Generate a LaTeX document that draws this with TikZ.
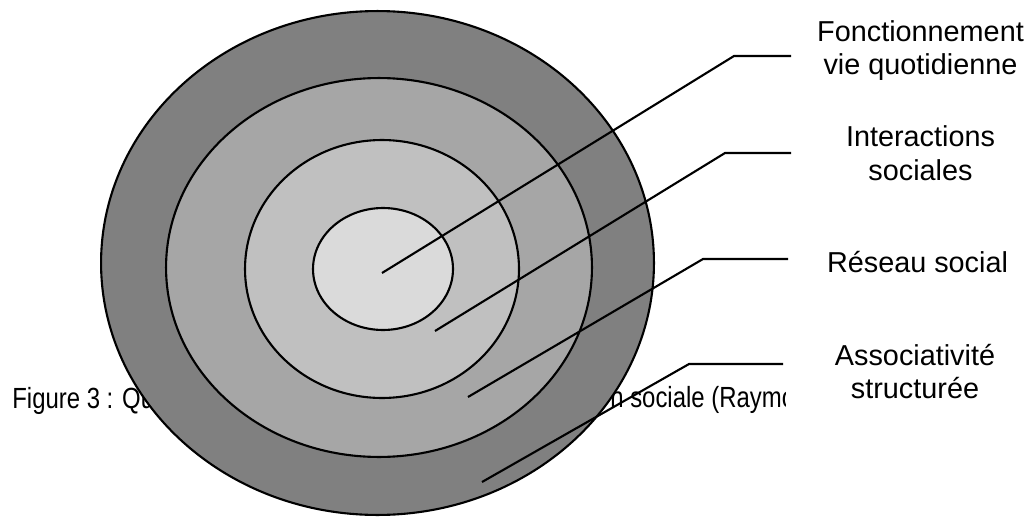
\documentclass[tikz,border=0pt]{standalone}
\usepackage{fontspec}
\setmainfont{Liberation Sans}
\newfontfamily\narrowfont{Liberation Sans}[FakeStretch=0.82]
\definecolor{outerc}{HTML}{808080}
\definecolor{secondc}{HTML}{A6A6A6}
\definecolor{thirdc}{HTML}{C0C0C0}
\definecolor{innerc}{HTML}{DADADA}
\tikzset{lbl/.style = {align=center, inner sep=0pt, font=\fontsize{16.4}{18.8}\selectfont},
  caption/.style = {inner sep=0pt, font=\narrowfont\fontsize{16.6}{18.8}\selectfont},
  ring/.style = {draw=black, line width=1.2pt},
  leader/.style = {line width=1.2pt}}

\begin{document}
\begin{tikzpicture}[x=0.02cm, y=-0.02cm]
  \useasboundingbox (0,0) rectangle (1030,517);
  % caption, partly hidden by the rings
  \begin{scope}
    \clip (0,0) rectangle (785,517);
    \node[caption, anchor=base west] (capl) at (12,408) {Figure 3 : Qu};
    \node[caption, anchor=base west] (capr) at (610,407) {n sociale (Raymo};
  \end{scope}
  % the four rings
  \draw[ring, fill=outerc] (377.5,263) ellipse [x radius=5.53cm, y radius=5.04cm];
  \draw[ring, fill=secondc] (379,267.5) ellipse [x radius=4.26cm, y radius=3.79cm];
  \draw[ring, fill=thirdc] (382,269) ellipse [x radius=2.74cm, y radius=2.58cm];
  \draw[ring, fill=innerc] (383,269) ellipse [x radius=1.40cm, y radius=1.22cm];
  % labels
  \node[lbl] (fonct) at (920.5,50.2) {Fonctionnement\\vie quotidienne};
  \node[lbl] (inter) at (920.5,153.2) {Interactions\\sociales};
  \node[lbl] (reseau) at (917.5,262.5) {Réseau social};
  \node[lbl] (assoc) at (915,371.5) {Associativité\\structurée};
  % leaders
  \coordinate (p1) at (382,273); \coordinate (b1) at (734,56); \coordinate (e1) at (791,56);
  \coordinate (p2) at (435,331); \coordinate (b2) at (725,153); \coordinate (e2) at (791,153);
  \coordinate (p3) at (468,397); \coordinate (b3) at (703,259); \coordinate (e3) at (788,259);
  \coordinate (p4) at (482,482); \coordinate (b4) at (689,364); \coordinate (e4) at (783,364);
  \foreach \i in {1,...,4}
    \draw[leader] (p\i) -- (b\i) -- (e\i);
\end{tikzpicture}
\end{document}
